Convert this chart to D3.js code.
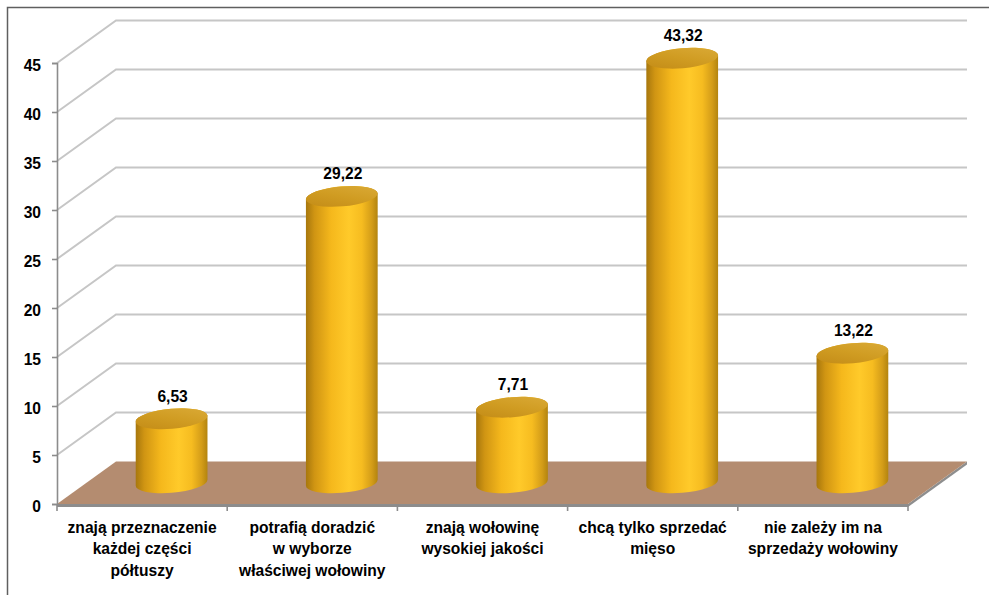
<!DOCTYPE html>
<html>
<head>
<meta charset="utf-8">
<script src="https://cdn.jsdelivr.net/npm/d3@7/dist/d3.min.js"></script>
<style>
  html, body { margin: 0; padding: 0; background: #fff; }
  svg { display: block; }
  text { font-family: "Liberation Sans", Arial, sans-serif; font-weight: bold; fill: #000; }
</style>
</head>
<body>
<svg id="chart" width="989" height="595"></svg>
<script>
// Category labels (one entry per line of the wrapped label)
const categoryLines = [
  ["znają przeznaczenie", "każdej części", "półtuszy"],
  ["potrafią doradzić", "w wyborze", "właściwej wołowiny"],
  ["znają wołowinę", "wysokiej jakości"],
  ["chcą tylko sprzedać", "mięso"],
  ["nie zależy im na", "sprzedaży wołowiny"]
];
// Share of answers (%)
const values = [6.53, 29.22, 7.71, 43.32, 13.22];
// Value axis ticks
const yTicks = [0, 5, 10, 15, 20, 25, 30, 35, 40, 45];

const svg = d3.select("#chart");

// Plot geometry: front-left origin, depth offset of the 3D box
const plotLeft = 57, plotRight = 908, plotBottom = 504, plotTop = 63;
const depth = { dx: 59, dy: -42.5 };

const x = d3.scaleBand().domain(d3.range(values.length)).range([plotLeft, plotRight]);
const y = d3.scaleLinear().domain([0, 45]).range([plotBottom, plotTop]);
const fmt = d3.formatLocale({ decimal: ",", thousands: " ", grouping: [3], currency: ["", " zł"] }).format(".2f");

// Outer frame
svg.append("rect")
  .attr("x", 7.5).attr("y", 7.5).attr("width", 1000).attr("height", 1000)
  .attr("fill", "none").attr("stroke", "#5f5f5f").attr("stroke-width", 1.5);

const defs = svg.append("defs");
const bodyGrad = defs.append("linearGradient").attr("id", "cylBody")
  .attr("x1", "0%").attr("x2", "100%").attr("y1", "0%").attr("y2", "0%");
[[0, "#a7770d"], [0.12, "#d09513"], [0.35, "#f5b81c"], [0.6, "#ffca2a"], [0.78, "#f6bc20"], [0.92, "#d39c18"], [1, "#b3840f"]]
  .forEach(([o, c]) => bodyGrad.append("stop").attr("offset", o).attr("stop-color", c));
const topGrad = defs.append("linearGradient").attr("id", "cylTop")
  .attr("x1", "0%").attr("x2", "100%").attr("y1", "100%").attr("y2", "0%");
[[0, "#c28a16"], [0.5, "#d09c22"], [1, "#dbab38"]]
  .forEach(([o, c]) => topGrad.append("stop").attr("offset", o).attr("stop-color", c));

// Walls: side wall diagonals and back wall horizontals
const grid = svg.append("g").attr("stroke", "#c6c6c6").attr("stroke-width", 2).attr("fill", "none");
yTicks.filter(t => t > 0).forEach(t => {
  const yy = y(t);
  grid.append("path")
    .attr("d", `M${plotLeft},${yy} L${plotLeft + depth.dx},${yy + depth.dy} L${plotRight + depth.dx},${yy + depth.dy}`);
});

// Floor slab
const floor = svg.append("g");
floor.append("path")
  .attr("d", `M${plotLeft},${plotBottom} L${plotRight},${plotBottom} L${plotRight},${plotBottom + 3} L${plotLeft},${plotBottom + 3} Z`)
  .attr("fill", "#8e8e8e");
floor.append("path")
  .attr("d", `M${plotRight},${plotBottom} L${plotRight + depth.dx},${plotBottom + depth.dy} L${plotRight + depth.dx},${plotBottom + depth.dy + 3} L${plotRight},${plotBottom + 3} Z`)
  .attr("fill", "#8e8e8e");
floor.append("path")
  .attr("d", `M${plotLeft},${plotBottom} L${plotRight},${plotBottom} L${plotRight + depth.dx},${plotBottom + depth.dy} L${plotLeft + depth.dx},${plotBottom + depth.dy} Z`)
  .attr("fill", "#b48c70");

// Value axis on the front-left edge
const yAxis = svg.append("g").attr("transform", `translate(${plotLeft},0)`)
  .call(d3.axisLeft(y).tickValues(yTicks).tickSize(5).tickPadding(11).tickFormat(d3.format("d")));
yAxis.select(".domain").attr("stroke", "#8c8c8c").attr("stroke-width", 1.6);
yAxis.selectAll(".tick line").attr("stroke", "#8c8c8c").attr("stroke-width", 1.6);
yAxis.selectAll(".tick text")
  .attr("font-size", 15.6).attr("font-family", "Liberation Sans, Arial, sans-serif")
  .attr("font-weight", "bold").attr("fill", "#000").attr("dy", "0.45em");

// Category axis line with boundary ticks
const xAxis = svg.append("g").attr("stroke", "#8c8c8c").attr("stroke-width", 1.6);
xAxis.append("line").attr("x1", plotLeft).attr("x2", plotRight).attr("y1", plotBottom + 1.5).attr("y2", plotBottom + 1.5);
d3.range(values.length + 1).forEach(i => {
  const xx = i < values.length ? x(i) : x(values.length - 1) + x.bandwidth();
  xAxis.append("line").attr("x1", xx).attr("x2", xx).attr("y1", plotBottom).attr("y2", plotBottom + 7);
});

// Cylinders
const rx = 36, ry = 10, rot = -5;
const th = rot * Math.PI / 180;
const t0 = Math.atan2(-ry * Math.sin(th), rx * Math.cos(th));
function ptAt(cx, cy, t) {
  return [cx + rx * Math.cos(t) * Math.cos(th) - ry * Math.sin(t) * Math.sin(th),
          cy + rx * Math.cos(t) * Math.sin(th) + ry * Math.sin(t) * Math.cos(th)];
}
const bars = svg.append("g");
values.forEach((v, i) => {
  const cx = x(i) + x.bandwidth() / 2 + depth.dx / 2;
  const cyB = y(0) + depth.dy / 2;
  const cyT = y(v) + depth.dy / 2;
  let R = ptAt(0, 0, t0), L = ptAt(0, 0, t0 + Math.PI);
  if (R[0] < L[0]) [R, L] = [L, R];
  const d = `M${cx + L[0]},${cyT + L[1]} L${cx + L[0]},${cyB + L[1]}` +
            ` A${rx},${ry} ${rot} 0 0 ${cx + R[0]},${cyB + R[1]}` +
            ` L${cx + R[0]},${cyT + R[1]}` +
            ` A${rx},${ry} ${rot} 0 0 ${cx + L[0]},${cyT + L[1]} Z`;
  bars.append("path").attr("d", d).attr("fill", "url(#cylBody)");
  bars.append("ellipse")
    .attr("cx", cx).attr("cy", cyT).attr("rx", rx).attr("ry", ry)
    .attr("transform", `rotate(${rot},${cx},${cyT})`)
    .attr("fill", "url(#cylTop)");
  bars.append("text")
    .attr("x", cx + 1).attr("y", cyT - 17)
    .attr("text-anchor", "middle").attr("font-size", 15.6)
    .text(fmt(v));
});

// Category labels
const labels = svg.append("g");
categoryLines.forEach((lines, i) => {
  const t = labels.append("text")
    .attr("x", x(i) + x.bandwidth() / 2).attr("y", 532.5)
    .attr("text-anchor", "middle").attr("font-size", 15.6);
  lines.forEach((ln, k) => {
    t.append("tspan").attr("x", x(i) + x.bandwidth() / 2).attr("dy", k === 0 ? 0 : 21.8).text(ln);
  });
});
</script>
</body>
</html>
